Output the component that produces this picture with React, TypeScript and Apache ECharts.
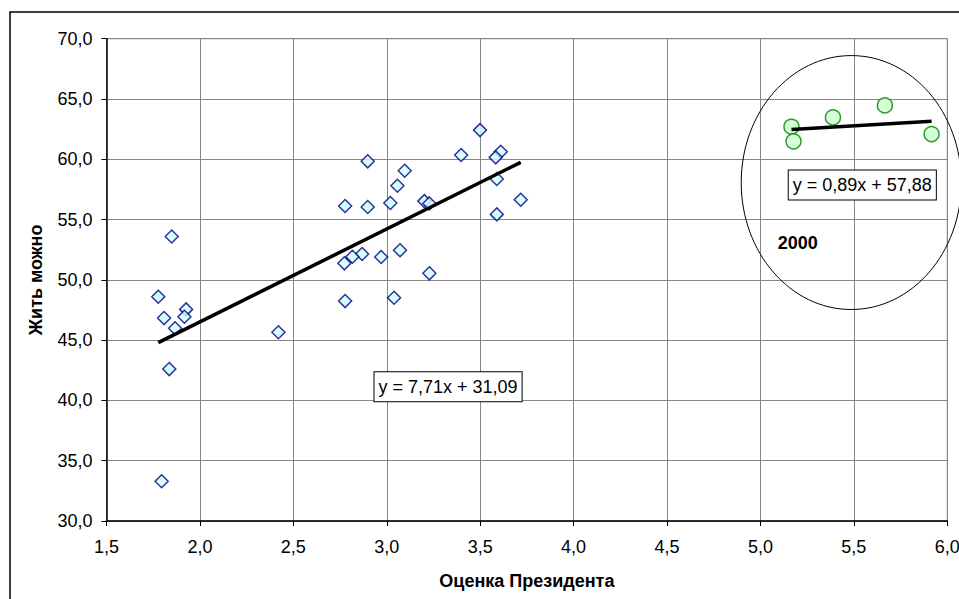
import React, { useEffect, useRef } from "react";
import * as echarts from "echarts";

// Blue series: Оценка Президента (x) vs Жить можно (y)
const blueX = [1.849, 1.777, 1.926, 1.808, 1.917, 1.867, 2.42, 1.836, 1.795, 3.499, 3.398, 3.61, 3.583, 2.898, 3.096, 3.057, 3.589, 2.777, 2.898, 3.019, 3.201, 3.228, 3.717, 3.589, 3.071, 2.868, 2.816, 2.773, 2.97, 3.228, 2.777, 3.039];
const blueY = [53.6, 48.6, 47.55, 46.83, 46.94, 45.98, 45.65, 42.6, 33.3, 62.42, 60.35, 60.62, 60.16, 59.83, 59.05, 57.8, 58.36, 56.12, 56.04, 56.37, 56.53, 56.34, 56.64, 55.43, 52.45, 52.14, 51.92, 51.37, 51.89, 50.54, 48.24, 48.52];

// Green series: year 2000
const greenX = [5.166, 5.177, 5.388, 5.666, 5.916];
const greenY = [62.7, 61.49, 63.47, 64.47, 62.09];

// Trendline coefficients (slope, intercept)
const blueTrend = [7.71, 31.09];
const greenTrend = [0.89, 57.88];

const blueLabel = "y = 7,71x + 31,09";
const greenLabel = "y = 0,89x + 57,88";
const groupLabel = "2000";

const xTitle = "Оценка Президента";
const yTitle = "Жить можно";

const FONT = "'Liberation Sans', Arial, sans-serif";

const fmt = (v: number) => v.toFixed(1).replace(".", ",");

function trendPoints(xs: number[], coef: number[]) {
  const lo = Math.min(...xs);
  const hi = Math.max(...xs);
  return [
    [lo, coef[0] * lo + coef[1]],
    [hi, coef[0] * hi + coef[1]],
  ];
}

export default function App() {
  const ref = useRef<HTMLDivElement>(null);
  useEffect(() => {
    document.body.style.margin = "0";
    if (!ref.current) return;
    const chart = echarts.init(ref.current, undefined, { renderer: "svg" });
    const option: any = {
      animation: false,
      backgroundColor: "#ffffff",
      grid: {
        left: 106.5,
        top: 38.7,
        right: 11.7,
        bottom: 78,
        show: true,
        borderColor: "#808080",
        borderWidth: 1,
        outerBoundsMode: "none",
        containLabel: false,
      },
      xAxis: {
        type: "value",
        min: 1.5,
        max: 6.0,
        interval: 0.5,
        name: xTitle,
        nameLocation: "middle",
        nameGap: 51,
        nameTextStyle: { fontFamily: FONT, fontSize: 18, fontWeight: "bold", color: "#000" },
        axisLine: { show: true, onZero: false, lineStyle: { color: "#000", width: 1.5 } },
        axisTick: { show: true, length: 5, lineStyle: { color: "#000" } },
        axisLabel: { formatter: fmt, fontFamily: FONT, fontSize: 18, color: "#000", margin: 17 },
        splitLine: { show: true, lineStyle: { color: "#858585", width: 1 } },
      },
      yAxis: {
        type: "value",
        min: 30,
        max: 70,
        interval: 5,
        name: yTitle,
        nameLocation: "middle",
        nameGap: 62,
        nameRotate: 90,
        nameTextStyle: { fontFamily: FONT, fontSize: 18, fontWeight: "bold", color: "#000" },
        axisLine: { show: true, onZero: false, lineStyle: { color: "#000", width: 1.5 } },
        axisTick: { show: true, length: 5, lineStyle: { color: "#000" } },
        axisLabel: { formatter: fmt, fontFamily: FONT, fontSize: 18, color: "#000", margin: 14 },
        splitLine: { show: true, lineStyle: { color: "#858585", width: 1 } },
      },
      series: [
        {
          type: "scatter",
          name: "blue",
          data: blueX.map((x, i) => [x, blueY[i]]),
          symbol: "diamond",
          symbolSize: 13,
          itemStyle: { color: "#CCFFFF", borderColor: "#000080", borderWidth: 1.5 },
          z: 3,
        },
        {
          type: "scatter",
          name: "green",
          data: greenX.map((x, i) => [x, greenY[i]]),
          symbol: "circle",
          symbolSize: 15,
          itemStyle: { color: "#CCFFCC", borderColor: "#008000", borderWidth: 1.5 },
          z: 3,
        },
        {
          type: "line",
          data: trendPoints(blueX, blueTrend),
          symbol: "none",
          lineStyle: { color: "#000", width: 3.5 },
          z: 4,
        },
        {
          type: "line",
          data: trendPoints(greenX, greenTrend),
          symbol: "none",
          lineStyle: { color: "#000", width: 3.5 },
          z: 4,
        },
      ],
    };
    chart.setOption(option);

    const px = (x: number, y: number) => chart.convertToPixel({ gridIndex: 0 }, [x, y]) as number[];
    const ellC = px(5.486, 58.07);
    const ellE = px(5.486 + 0.589, 58.07 + 10.53);
    const bluePos = px(3.328, 41.14);
    const greenPos = px(5.545, 57.86);
    const yearPos = px(5.2, 53.03);

    const boxText = (p: number[], text: string) => ({
      type: "text",
      x: p[0],
      y: p[1],
      z: 10,
      style: {
        text,
        fontFamily: FONT,
        fontSize: 18,
        fill: "#000",
        align: "center",
        verticalAlign: "middle",
        backgroundColor: "#fff",
        borderColor: "#000",
        borderWidth: 1,
        padding: [6, 4, 5, 4],
      },
    });

    chart.setOption({
      graphic: [
        {
          type: "rect",
          x: 10,
          y: 12,
          shape: { width: 1000, height: 700 },
          style: { fill: "none", stroke: "#000", lineWidth: 1.5 },
          silent: true,
          z: 0,
        },
        {
          type: "ellipse",
          shape: { cx: ellC[0], cy: ellC[1], rx: ellE[0] - ellC[0], ry: ellC[1] - ellE[1] },
          style: { fill: "none", stroke: "#000", lineWidth: 1 },
          silent: true,
          z: 9,
        },
        boxText(bluePos, blueLabel),
        boxText(greenPos, greenLabel),
        {
          type: "text",
          x: yearPos[0],
          y: yearPos[1],
          z: 10,
          style: {
            text: groupLabel,
            fontFamily: FONT,
            fontSize: 18,
            fontWeight: "bold",
            fill: "#000",
            align: "center",
            verticalAlign: "middle",
          },
        },
      ],
    });

    return () => chart.dispose();
  }, []);
  return <div ref={ref} style={{ width: 959, height: 599 }} />;
}
